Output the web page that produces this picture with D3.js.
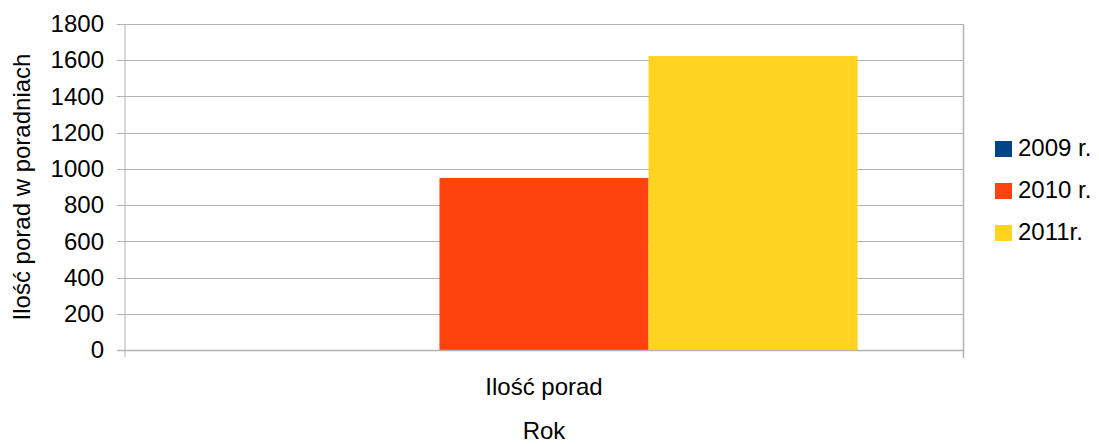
<!DOCTYPE html>
<html lang="pl">
<head>
<meta charset="UTF-8">
<title>Ilość porad</title>
<script src="https://cdn.jsdelivr.net/npm/d3@7"></script>
<style>
  body { margin: 0; background: #fff; }
  text { font-family: "Liberation Sans", Arial, sans-serif; fill: #000; }
</style>
</head>
<body>
<svg id="chart" width="1099" height="444"></svg>
<script>
// data
const categories = ["Ilość porad"]
const years = ["2009 r.", "2010 r.", "2011r."]
const values = [0, 950, 1623]
const yTicks = [0, 200, 400, 600, 800, 1000, 1200, 1400, 1600, 1800]
const colors = ["#004586", "#ff420e", "#ffd320"]

const svg = d3.select("#chart")
const pLeft = 125, pRight = 963, pTop = 24, pBottom = 350
const grid = "#b3b3b3"
const fs = 24

let y = d3.scaleLinear().domain([0, 1800]).range([pBottom, pTop])
let x0 = d3.scaleBand().domain(categories).range([pLeft, pRight]).paddingInner(0).paddingOuter(0.168)
let x1 = d3.scaleBand().domain(years).range([0, x0.bandwidth()])
let color = d3.scaleOrdinal().domain(years).range(colors)

// gridlines
svg.append("g")
  .selectAll("line")
  .data(yTicks)
  .join("line")
  .attr("x1", pLeft - 8).attr("x2", pRight)
  .attr("y1", d => Math.round(y(d)) + 0.5).attr("y2", d => Math.round(y(d)) + 0.5)
  .attr("stroke", grid).attr("stroke-width", 1)

// bars
let rows = years.map((yr, i) => ({ cat: categories[0], year: yr, value: values[i] }))
svg.append("g")
  .selectAll("rect")
  .data(rows)
  .join("rect")
  .attr("x", d => x0(d.cat) + x1(d.year))
  .attr("width", x1.bandwidth())
  .attr("y", d => y(d.value))
  .attr("height", d => y(0) - y(d.value))
  .attr("fill", d => color(d.year))

// y axis
let yaxis = d3.axisLeft(y).tickValues(yTicks).tickFormat(d3.format("d")).tickSize(8).tickPadding(13)
let gy = svg.append("g").attr("transform", "translate(" + pLeft + ",0)").call(yaxis)
gy.select(".domain").attr("stroke", grid).attr("d", "M0," + pTop + "V" + (pBottom + 7))
gy.selectAll(".tick line").attr("stroke", "none")
gy.selectAll(".tick text").attr("font-size", fs).attr("font-family", "Liberation Sans, Arial, sans-serif").attr("fill", "#000")

// x axis line + end ticks
svg.append("line").attr("x1", pLeft - 8).attr("x2", pRight).attr("y1", pBottom + 0.5).attr("y2", pBottom + 0.5)
  .attr("stroke", grid).attr("stroke-width", 1.5)
svg.append("line").attr("x1", pRight + 0.5).attr("x2", pRight + 0.5).attr("y1", pTop).attr("y2", pBottom + 8)
  .attr("stroke", grid).attr("stroke-width", 1.5)

// category label
svg.append("text")
  .attr("x", x0(categories[0]) + x0.bandwidth() / 2).attr("y", 395)
  .attr("text-anchor", "middle").attr("font-size", fs)
  .text(categories[0])

// axis titles
svg.append("text")
  .attr("x", (pLeft + pRight) / 2).attr("y", 439)
  .attr("text-anchor", "middle").attr("font-size", fs)
  .text("Rok")

svg.append("text")
  .attr("transform", "translate(30," + ((pTop + pBottom) / 2) + ") rotate(-90)")
  .attr("text-anchor", "middle").attr("font-size", fs)
  .text("Ilość porad w poradniach")

// legend
let lg = svg.append("g")
  .selectAll("g")
  .data(years)
  .join("g")
  .attr("transform", (d, i) => "translate(995," + (141 + i * 42) + ")")
lg.append("rect").attr("width", 17).attr("height", 16).attr("fill", d => color(d))
lg.append("text").attr("x", 23).attr("y", 15).attr("font-size", fs).text(d => d)
</script>
</body>
</html>
